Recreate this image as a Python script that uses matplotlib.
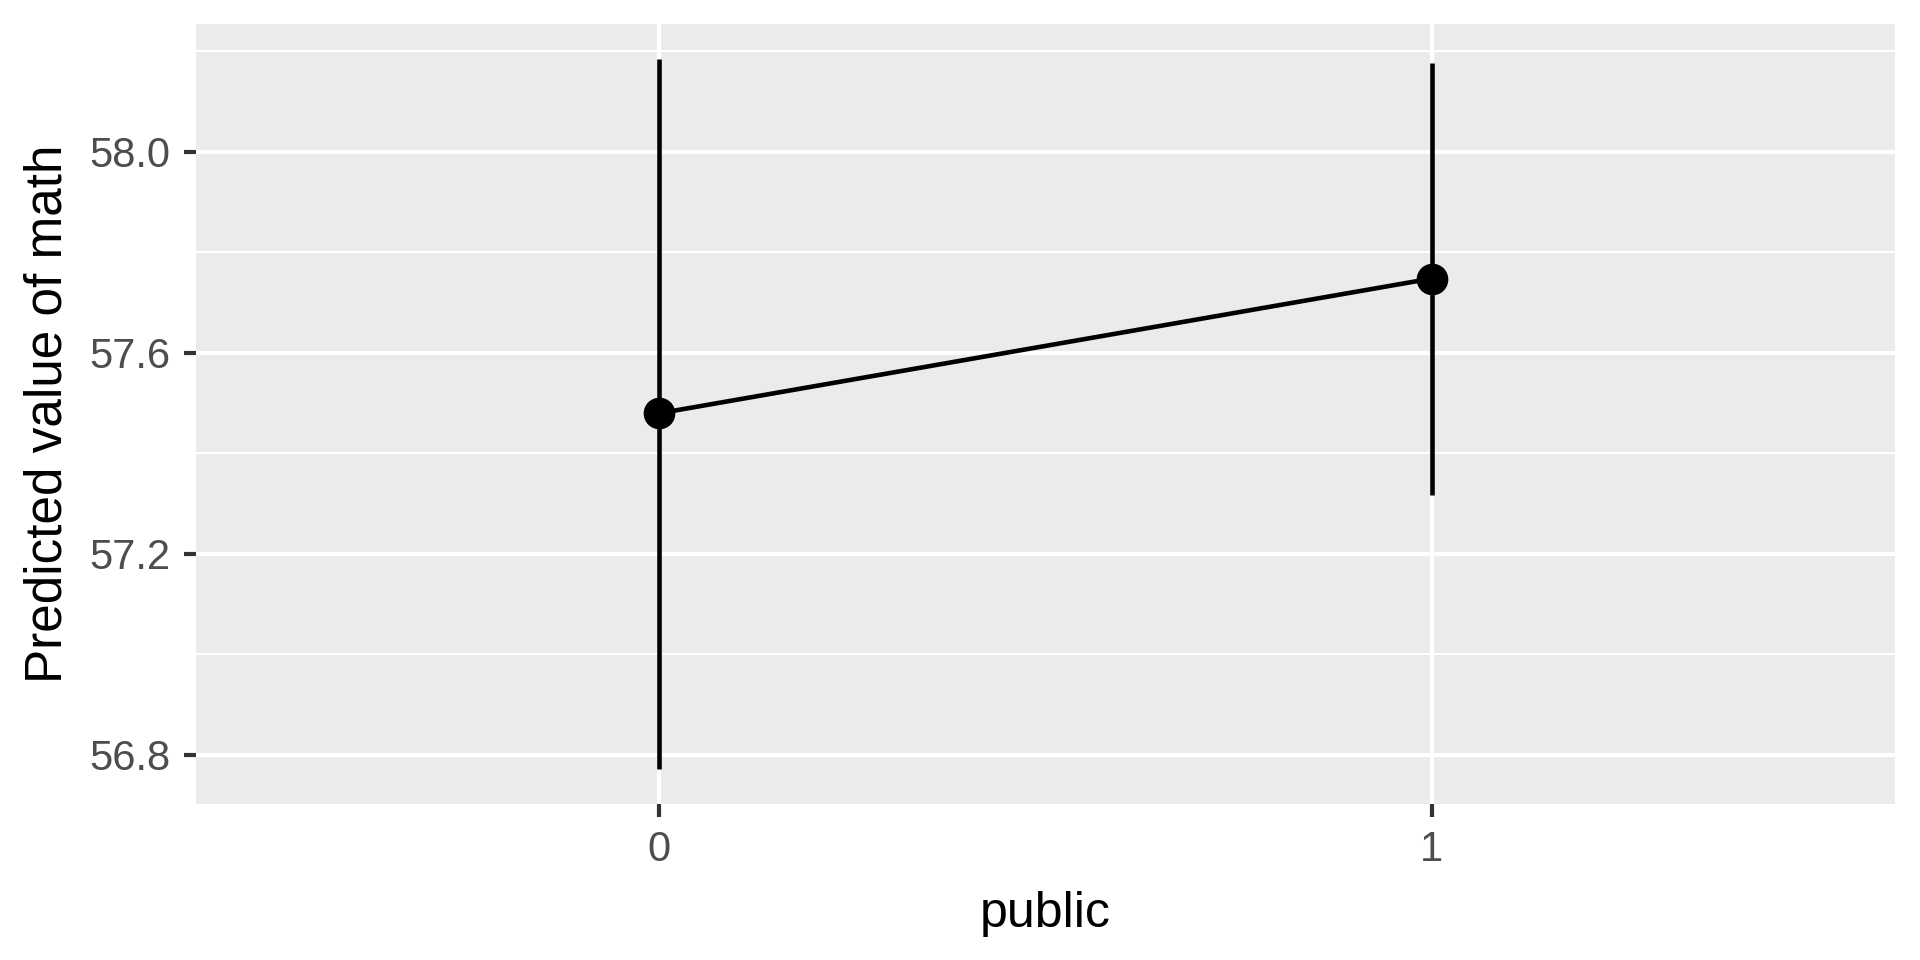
import matplotlib
matplotlib.use("Agg")
import matplotlib.pyplot as plt

# Data
categories = ["0", "1"]
predicted = [57.480, 57.748]
ci_low = [56.773, 57.318]
ci_high = [58.184, 58.177]
y_major = [56.8, 57.2, 57.6, 58.0]
y_minor = [56.6, 57.0, 57.4, 57.8, 58.2]
y_tick_labels = ["56.8", "57.2", "57.6", "58.0"]

plt.rcParams['font.family'] = ['Liberation Sans', 'DejaVu Sans']

fig = plt.figure(figsize=(6.4, 3.2), dpi=300)
ax = fig.add_axes([0.1021, 0.1625, 0.987 - 0.1021, 0.975 - 0.1625])
ax.set_facecolor("#EBEBEB")
for s in ax.spines.values():
    s.set_visible(False)

x = list(range(len(categories)))

# gridlines
for yv in y_minor:
    ax.axhline(yv, color="white", lw=0.5, zorder=0)
for yv in y_major:
    ax.axhline(yv, color="white", lw=1.0, zorder=0)
for xv in x:
    ax.axvline(xv, color="white", lw=1.0, zorder=0)

ax.vlines(x, ci_low, ci_high, color="black", lw=1.1, zorder=2)
ax.plot(x, predicted, color="black", lw=1.1, zorder=3)
ax.plot(x, predicted, "o", color="black", ms=7.6, mew=0, zorder=4)

ax.set_xlim(-0.6, 1.6)
lo = min(ci_low); hi = max(ci_high); r = hi - lo
ax.set_ylim(lo - 0.05 * r, hi + 0.05 * r)

ax.set_xticks(x)
ax.set_xticklabels(categories)
ax.set_yticks(y_major)
ax.set_yticklabels(y_tick_labels)
ax.tick_params(axis="both", length=3.0, width=1.0, color="#333333",
               labelcolor="#4D4D4D", labelsize=10, pad=3.2)

ax.set_xlabel("public", fontsize=12, color="black", labelpad=5)
ax.set_ylabel("Predicted value of math", fontsize=12.3, color="black", labelpad=4)

fig.savefig("out.png", dpi=300, facecolor="white")
